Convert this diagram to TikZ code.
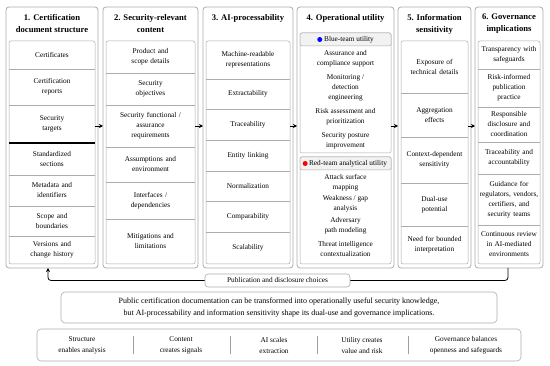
\documentclass[tikz,border=0pt]{standalone}
\usepackage{fontspec}
\setmainfont{Liberation Serif}
\usetikzlibrary{arrows.meta,positioning}

\newcommand\fsbody{\fontsize{7.3}{10}\selectfont}
\newcommand\fstitle{\fontsize{8.6}{12}\selectfont\bfseries}
\newcommand\fssum{\fontsize{8}{12}\selectfont}
\newcommand\fsstrip{\fontsize{7.3}{11}\selectfont}

% name, x1, x2, y1, y2, text
\newcommand\mkcell[6]{%
 \pgfmathsetmacro\cw{#3-#2}\pgfmathsetmacro\ch{#5-#4}\pgfmathsetmacro\tw{#3-#2-2}%
 \pgfmathsetmacro\cx{(#2+#3)/2}\pgfmathsetmacro\cy{(#4+#5)/2}%
 \node[cell, text width=\tw pt, minimum width=\cw pt, minimum height=\ch pt] (#1) at (\cx,\cy) {#6};}
% style, name, x1, x2, y1, y2
\newcommand\mkbox[6]{%
 \pgfmathsetmacro\cw{#4-#3}\pgfmathsetmacro\ch{#6-#5}%
 \pgfmathsetmacro\cx{(#3+#4)/2}\pgfmathsetmacro\cy{(#5+#6)/2}%
 \node[#1, minimum width=\cw pt, minimum height=\ch pt] (#2) at (\cx,\cy) {};}

\tikzset{
 colbox/.style={draw=gray!65, line width=0.8pt, rounded corners=3pt, rectangle, inner sep=0pt, outer sep=0pt, fill=white},
 inbox/.style={draw=gray!65, line width=0.5pt, rounded corners=2pt, rectangle, inner sep=0pt, outer sep=0pt},
 hdr/.style={draw=gray!65, line width=0.5pt, rounded corners=1.5pt, rectangle, inner sep=0pt, outer sep=0pt, fill=gray!10},
 cell/.style={rectangle, inner sep=0pt, outer sep=0pt, align=center, font=\fsbody},
 item/.style={inner sep=0pt, align=center, font=\fsbody},
 coltitle/.style={inner sep=0pt, align=center, font=\fstitle},
 sep/.style={draw=gray!65, line width=0.5pt},
 thicksep/.style={draw=black, line width=1.3pt},
 flow/.style={-{Stealth[length=4pt,width=4pt]}, line width=0.8pt, black},
 fbline/.style={line width=0.8pt, black, rounded corners=3pt},
 dot/.style={circle, inner sep=0pt, minimum size=5pt},
 pubbox/.style={draw=gray!65, line width=0.6pt, rounded corners=3pt, fill=white, inner sep=0pt, font=\fsbody, minimum width=145pt, minimum height=13pt},
 sumbox/.style={draw=gray!65, line width=0.6pt, rounded corners=4pt, inner sep=0pt, align=center, font=\fssum},
 stripitem/.style={inner sep=0pt, align=center, font=\fsstrip},
}

\begin{document}
\begin{tikzpicture}[x=1pt,y=-1pt]
\useasboundingbox (0,0) rectangle (550,366);

% ---------- outer columns ----------
\mkbox{colbox}{col1}{6}{98}{7}{268}
\mkbox{colbox}{col2}{103}{198}{7}{268}
\mkbox{colbox}{col3}{203}{293}{7}{268}
\mkbox{colbox}{col4}{297}{394}{7}{268}
\mkbox{colbox}{col5}{398}{471}{7}{268}
\mkbox{colbox}{col6}{475}{543}{7}{268}

% titles
\node[coltitle] (t1) at (52,24) {1. Certification\\document structure};
\node[coltitle] (t2) at (150.5,24) {2. Security-relevant\\content};
\node[coltitle] (t3) at (248,18.5) {3. AI-processability};
\node[coltitle] (t4) at (345.5,18.5) {4. Operational utility};
\node[coltitle] (t5) at (434.5,24) {5. Information\\sensitivity};
\node[coltitle] (t6) at (509,24) {6. Governance\\implications};

% ---------- column 1 ----------
\mkbox{inbox}{in1}{9}{95}{41}{264}
\mkcell{c1a}{9}{95}{41}{69}{Certificates}
\mkcell{c1b}{9}{95}{69}{105}{Certification\\reports}
\mkcell{c1c}{9}{95}{105}{143}{Security\\targets}
\mkcell{c1d}{9}{95}{143}{175}{Standardized\\sections}
\mkcell{c1e}{9}{95}{175}{206}{Metadata and\\identifiers}
\mkcell{c1f}{9}{95}{206}{236}{Scope and\\boundaries}
\mkcell{c1g}{9}{95}{236}{264}{Versions and\\change history}
\foreach \n in {c1a,c1b,c1d,c1e,c1f} {\draw[sep] (\n.south west) -- (\n.south east);}
\draw[thicksep] (c1c.south west) -- (c1c.south east);

% ---------- column 2 ----------
\mkbox{inbox}{in2}{106}{195}{41}{264}
\mkcell{c2a}{106}{195}{41}{73}{Product and\\scope details}
\mkcell{c2b}{106}{195}{73}{105}{Security\\objectives}
\mkcell{c2c}{106}{195}{105}{147}{Security functional /\\assurance\\requirements}
\mkcell{c2d}{106}{195}{147}{182}{Assumptions and\\environment}
\mkcell{c2e}{106}{195}{182}{219}{Interfaces /\\dependencies}
\mkcell{c2f}{106}{195}{219}{264}{Mitigations and\\limitations}
\foreach \n in {c2a,c2b,c2c,c2d,c2e} {\draw[sep] (\n.south west) -- (\n.south east);}

% ---------- column 3 ----------
\mkbox{inbox}{in3}{206}{290}{41}{264}
\mkcell{c3a}{206}{290}{41}{79}{Machine-readable\\representations}
\mkcell{c3b}{206}{290}{79}{109}{Extractability}
\mkcell{c3c}{206}{290}{109}{140}{Traceability}
\mkcell{c3d}{206}{290}{140}{171}{Entity linking}
\mkcell{c3e}{206}{290}{171}{201}{Normalization}
\mkcell{c3f}{206}{290}{201}{232}{Comparability}
\mkcell{c3g}{206}{290}{232}{264}{Scalability}
\foreach \n in {c3a,c3b,c3c,c3d,c3e,c3f} {\draw[sep] (\n.south west) -- (\n.south east);}

% ---------- column 4 ----------
\mkbox{inbox}{blue}{300}{391}{33}{153}
\mkbox{hdr}{bhdr}{300}{391}{33}{46}
\node[item] (bt) at (349,39.5) {Blue-team utility};
\node[dot, fill=blue, left=1.5pt of bt] (bdot) {};
\node[item] (b1) at (345.5,59) {Assurance and\\compliance support};
\node[item] (b2) at (345.5,88) {Monitoring /\\detection\\engineering};
\node[item] (b3) at (345.5,117) {Risk assessment and\\prioritization};
\node[item] (b4) at (345.5,140.5) {Security posture\\improvement};

\mkbox{inbox}{red}{300}{391}{157}{264}
\mkbox{hdr}{rhdr}{300}{391}{157}{170}
\node[item] (rt) at (348,163.5) {Red-team analytical utility};
\node[dot, fill=red, left=1pt of rt] (rdot) {};
\node[item] (r1) at (345.5,183) {Attack surface\\mapping};
\node[item] (r2) at (345.5,204) {Weakness / gap\\analysis};
\node[item] (r3) at (345.5,225.5) {Adversary\\path modeling};
\node[item] (r4) at (345.5,249.5) {Threat intelligence\\contextualization};

% ---------- column 5 ----------
\mkbox{inbox}{in5}{401}{468}{41}{264}
\mkcell{c5a}{401}{468}{41}{93}{Exposure of\\technical details}
\mkcell{c5b}{401}{468}{93}{137}{Aggregation\\effects}
\mkcell{c5c}{401}{468}{137}{183}{Context-dependent\\sensitivity}
\mkcell{c5d}{401}{468}{183}{226}{Dual-use\\potential}
\mkcell{c5e}{401}{468}{226}{264}{Need for bounded\\interpretation}
\foreach \n in {c5a,c5b,c5c,c5d} {\draw[sep] (\n.south west) -- (\n.south east);}

% ---------- column 6 ----------
\mkbox{inbox}{in6}{478}{540}{41}{264}
\mkcell{c6a}{478}{540}{41}{69}{Transparency with\\safeguards}
\mkcell{c6b}{478}{540}{69}{107}{Risk-informed\\publication\\practice}
\mkcell{c6c}{478}{540}{107}{142}{Responsible\\disclosure and\\coordination}
\mkcell{c6d}{478}{540}{142}{174}{Traceability and\\accountability}
\mkcell{c6e}{478}{540}{174}{225}{Guidance for\\regulators, vendors,\\certifiers, and\\security teams}
\mkcell{c6f}{478}{540}{225}{264}{Continuous review\\in AI-mediated\\environments}
\foreach \n in {c6a,c6b,c6c,c6d,c6e} {\draw[sep] (\n.south west) -- (\n.south east);}

% ---------- flow arrows ----------
\draw[flow] ([xshift=-3pt,yshift=11.5pt]col1.east) -- ([yshift=11.5pt]col2.west);
\draw[flow] ([xshift=-3pt,yshift=11.5pt]col2.east) -- ([yshift=11.5pt]col3.west);
\draw[flow] ([xshift=-3pt,yshift=11.5pt]col3.east) -- ([yshift=11.5pt]col4.west);
\draw[flow] ([xshift=-3pt,yshift=11.5pt]col4.east) -- ([yshift=11.5pt]col5.west);
\draw[flow] ([xshift=-3pt,yshift=11.5pt]col5.east) -- ([yshift=11.5pt]col6.west);

% ---------- feedback ----------
\node[pubbox] (pub) at (277.5,280.5) {Publication and disclosure choices};
\draw[fbline] ([xshift=-1pt]col6.south) |- (pub.east);
\draw[fbline, -{Stealth[length=4pt,width=4pt]}] (pub.west) -| ([xshift=-4pt]col1.south);

% ---------- summary ----------
\node[sumbox, minimum width=436pt, minimum height=31pt] (sum) at (279,307.5)
 {Public certification documentation can be transformed into operationally useful security knowledge,\\
  but AI-processability and information sensitivity shape its dual-use and governance implications.};

% ---------- bottom strip ----------
\node[sumbox, minimum width=484pt, minimum height=32pt] (strip) at (279,345) {};
\node[stripitem] (s1) at (82,345.5) {Structure\\enables analysis};
\node[stripitem] (s2) at (181,345.5) {Content\\creates signals};
\node[stripitem] (s3) at (274,345.5) {AI scales\\extraction};
\node[stripitem] (s4) at (362,345.5) {Utility creates\\value and risk};
\node[stripitem] (s5) at (466,345.5) {Governance balances\\openness and safeguards};
\foreach \x in {133,230,317,408} {\draw[sep, draw=gray!75, line width=0.7pt] (\x,336) -- (\x,354);}
\end{tikzpicture}
\end{document}
